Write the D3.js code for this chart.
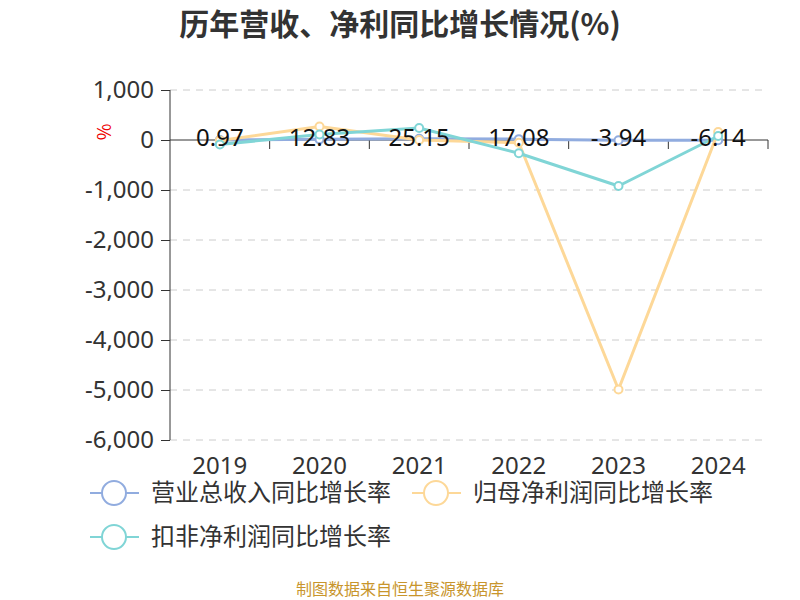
<!DOCTYPE html>
<meta charset="utf-8">
<style>
body { margin: 0; background: #fff; font-family: "Noto Sans CJK SC", "Noto Sans", sans-serif; }
.grid line { stroke: #ccc; stroke-dasharray: 7 6; }
.axis path, .axis line { stroke: #333; }
.line { fill: none; stroke-width: 3; stroke-linejoin: round; }
</style>
<svg width="800" height="600"></svg>
<script src="https://d3js.org/d3.v7.min.js"></script>
<script>
var years = ["2019", "2020", "2021", "2022", "2023", "2024"];
var revenue = [0.97, 12.83, 25.15, 17.08, -3.94, -6.14];
var netProfit = [-10, 270, 0, -55, -4990, 160];
var deducted = [-90, 110, 240, -265, -920, 80];
var yTicks = [1000, 0, -1000, -2000, -3000, -4000, -5000, -6000];
var seriesNames = ["营业总收入同比增长率", "归母净利润同比增长率", "扣非净利润同比增长率"];
var colors = ["#91acdf", "#fdd898", "#80d5d6"];

var svg = d3.select("svg");
var plotLeft = 170, plotRight = 768, plotTop = 90, plotBottom = 440;

var x = d3.scaleBand().domain(years).range([plotLeft, plotRight]);
var y = d3.scaleLinear().domain([-6000, 1000]).range([plotBottom, plotTop]);

svg.append("text")
    .attr("x", 400).attr("y", 35)
    .attr("text-anchor", "middle")
    .style("font-size", "30px").style("font-weight", "bold").style("fill", "#333")
    .text("历年营收、净利同比增长情况(%)");

// grid
svg.append("g").attr("class", "grid")
  .selectAll("line")
  .data(yTicks.filter(function(d) { return d !== 0; }))
  .enter().append("line")
    .attr("x1", plotLeft).attr("x2", plotRight)
    .attr("y1", function(d) { return y(d); })
    .attr("y2", function(d) { return y(d); });

// y axis
var fmt = d3.format(",");
var yAxis = svg.append("g").attr("class", "axis")
    .attr("transform", "translate(" + plotLeft + ",0)")
    .call(d3.axisLeft(y).tickValues(yTicks).tickSize(9).tickPadding(7)
        .tickFormat(function(d) { return fmt(d).replace("\u2212", "-"); }));
yAxis.select(".domain").attr("d", "M0," + plotTop + "V" + plotBottom);
yAxis.selectAll("text").style("font-size", "24px").style("fill", "#333")
    .style("font-family", "'Noto Sans', sans-serif");

svg.append("text")
    .attr("transform", "translate(111," + (y(0) - 8) + ") rotate(-90)")
    .attr("text-anchor", "middle")
    .style("font-size", "18px").style("fill", "#e00")
    .text("%");

// x axis at zero
var xAxis = svg.append("g").attr("class", "axis")
    .attr("transform", "translate(0," + y(0) + ")");
xAxis.append("line").attr("x1", plotLeft).attr("x2", plotRight);
xAxis.selectAll("line.tick")
  .data(years)
  .enter().append("line").attr("class", "tick")
    .attr("x1", function(d) { return x(d) + x.step(); })
    .attr("x2", function(d) { return x(d) + x.step(); })
    .attr("y1", 0).attr("y2", 9);

svg.append("g").selectAll("text")
  .data(years)
  .enter().append("text")
    .attr("x", function(d) { return x(d) + x.bandwidth() / 2; })
    .attr("y", 474)
    .attr("text-anchor", "middle")
    .style("font-size", "24px").style("fill", "#333")
    .style("font-family", "'Noto Sans', sans-serif")
    .text(function(d) { return d; });

var line = d3.line()
    .x(function(d, i) { return x(years[i]) + x.bandwidth() / 2; })
    .y(function(d) { return y(d); });

[revenue, netProfit, deducted].forEach(function(s, k) {
  var g = svg.append("g");
  g.append("path").attr("class", "line")
      .attr("stroke", colors[k])
      .attr("d", line(s));
  g.selectAll("circle").data(s).enter().append("circle")
      .attr("cx", function(d, i) { return x(years[i]) + x.bandwidth() / 2; })
      .attr("cy", function(d) { return y(d); })
      .attr("r", 4)
      .attr("fill", "#fff").attr("stroke", colors[k]).attr("stroke-width", 2);
});

svg.append("g").selectAll("text")
  .data(revenue)
  .enter().append("text")
    .attr("x", function(d, i) { return x(years[i]) + x.bandwidth() / 2; })
    .attr("y", y(0) + 6)
    .attr("text-anchor", "middle")
    .style("font-size", "24px").style("fill", "#111")
    .style("font-family", "'Noto Sans', sans-serif")
    .text(function(d) { return d.toFixed(2); });

// legend
var legendPos = [[90, 493], [412, 493], [90, 537]];
seriesNames.forEach(function(name, k) {
  var p = legendPos[k];
  var g = svg.append("g").attr("transform", "translate(" + p[0] + "," + p[1] + ")");
  g.append("line").attr("x1", 0).attr("x2", 49).attr("stroke", colors[k]).attr("stroke-width", 2);
  g.append("circle").attr("cx", 24).attr("r", 12)
      .attr("fill", "#fff").attr("stroke", colors[k]).attr("stroke-width", 2);
  g.append("text").attr("x", 61).attr("y", 8)
      .style("font-size", "24px").style("fill", "#333")
      .text(name);
});

svg.append("text")
    .attr("x", 400).attr("y", 595)
    .attr("text-anchor", "middle")
    .style("font-size", "16px").style("fill", "#c8952c")
    .text("制图数据来自恒生聚源数据库");
</script>
